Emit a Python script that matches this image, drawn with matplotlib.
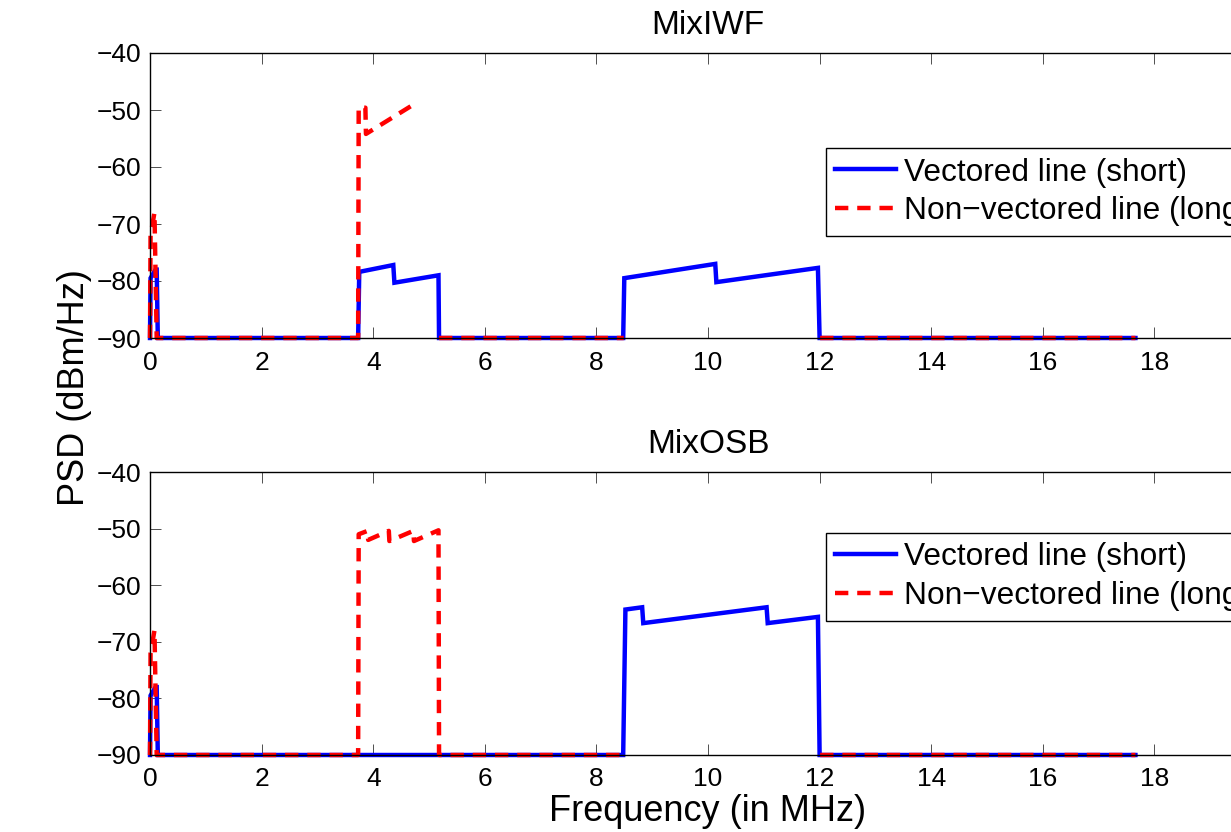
import numpy as np
import matplotlib
matplotlib.use("Agg")
import matplotlib.pyplot as plt

plt.rcParams['font.family'] = ['Liberation Sans', 'DejaVu Sans']

#####################################################################################
# (frequency in MHz, PSD in dBm/Hz), nan = not drawn
iwf_short_f = [0, 0.01, 0.10, 0.12, 0.14, 3.73, 3.75, 4.36, 4.38, 5.17, 5.18, 8.48, 8.50, 10.13, 10.15, 11.97, 12.0, 17.66]
iwf_short_p = [-90, -79.5, -78, -78, -90, -90, -78.4, -77.2, -80.3, -79.0, -90, -90, -79.5, -77.0, -80.2, -77.7, -90, -90]

iwf_long_f = [0, 0.01, 0.08, 0.12, 3.73, 3.74, 3.86, 3.87, 4.68, 4.69, 5.18, 8.49, 8.50, 12.0, 12.01, 17.66]
iwf_long_p = [-90, -72, -68, -90, -90, -49.5, -49.6, -54.2, -49.3, np.nan, -90, -90, np.nan, np.nan, -90, -90]

osb_short_f = [0, 0.01, 0.10, 0.12, 0.14, 8.48, 8.52, 8.82, 8.84, 11.05, 11.07, 11.97, 12.0, 17.66]
osb_short_p = [-90, -79.5, -78, -78, -90, -90, -64.3, -63.9, -66.7, -63.9, -66.7, -65.6, -90, -90]

osb_long_f = [0, 0.01, 0.08, 0.12, 3.73, 3.74, 3.90, 3.91, 4.28, 4.29, 4.72, 4.73, 5.17, 5.18, 8.49, 8.50, 12.0, 12.01, 17.66]
osb_long_p = [-90, -72, -68, -90, -90, -51.0, -50.4, -52.0, -50.4, -52.2, -50.4, -52.2, -50.3, -90, -90, np.nan, np.nan, -90, -90]

titles = ["MixIWF", "MixOSB"]
labels = ["Vectored line (short)", "Non\u2212vectored line (long)"]

#####################################################################################
W, H = 1231, 832
fig = plt.figure(figsize=(W / 100, H / 100), dpi=100)

left = 150 / W
width = 1116 / W
ax1 = fig.add_axes([left, 1 - 338 / H, width, 285 / H])
ax2 = fig.add_axes([left, 1 - 755 / H, width, 283 / H])

panels = [
    (ax1, iwf_short_f, iwf_short_p, iwf_long_f, iwf_long_p, (338 - 148) / 285),
    (ax2, osb_short_f, osb_short_p, osb_long_f, osb_long_p, (755 - 533) / 283),
]

for i, (ax, sf, sp, lf, lp, legy) in enumerate(panels):
    ax.plot(sf, sp, color='#0000ff', linewidth=3.2, solid_joinstyle='miter', clip_on=False, label=labels[0])
    ax.plot(lf, lp, color='#ff0000', linewidth=3.2, dashes=(3, 2), clip_on=False, label=labels[1])

    ax.set_xlim(0, 20)
    ax.set_ylim(-90, -40)
    ax.set_xticks(np.arange(0, 20, 2))
    ax.set_yticks(np.arange(-90, -39, 10))
    ax.tick_params(direction='in', top=True, right=True, length=8, width=0.6,
                   labelsize=19, color='#333333')
    ax.tick_params(axis='x', pad=9)
    ax.tick_params(axis='y', pad=6)
    for s in ax.spines.values():
        s.set_linewidth(1.0)

    ax.set_title(titles[i], fontsize=24, pad=14)

    ax.legend(loc='upper left', bbox_to_anchor=(0.6057, legy), fontsize=22.8,
              frameon=True, fancybox=False, edgecolor='black', framealpha=1,
              handlelength=1.9, handletextpad=0.25, labelspacing=0.28,
              borderpad=0.3, borderaxespad=0)
    ax.get_legend().get_frame().set_linewidth(1.0)

ax2.set_xlabel("Frequency (in MHz)", fontsize=26, labelpad=2)
fig.text(75 / W, 1 - 388 / H, "PSD (dBm/Hz)", rotation=90, fontsize=26,
         ha='center', va='center')

fig.savefig("out.png", dpi=100)
